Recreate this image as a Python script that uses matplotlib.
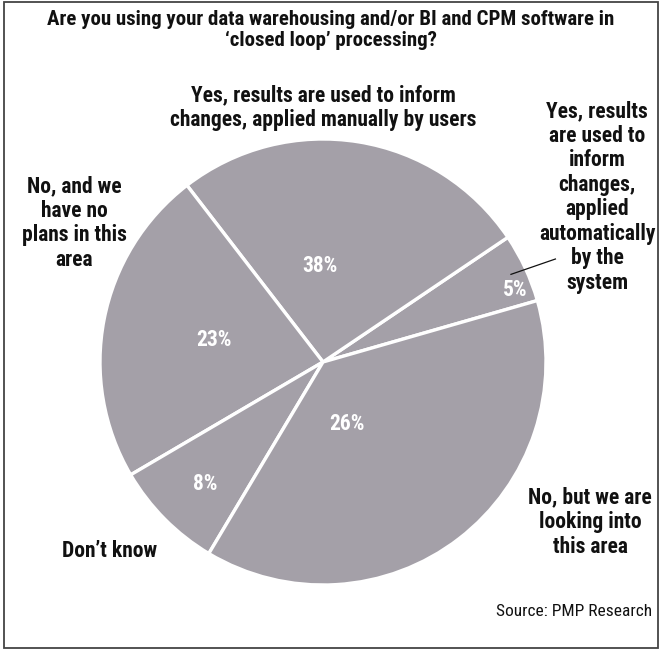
import numpy as np
import matplotlib
matplotlib.use("Agg")
import matplotlib.pyplot as plt
from matplotlib import font_manager
from matplotlib.patches import Rectangle

# ---- data ----
categories = [
    "Yes, results\nare used to\ninform\nchanges,\napplied\nautomatically\nby the\nsystem",
    "Yes, results are used to inform\nchanges, applied manually by users",
    "No, and we\nhave no\nplans in this\narea",
    "Don\u2019t know",
    "No, but we are\nlooking into\nthis area",
]
slice_sizes = [5, 26, 23, 8, 38]          # angular share drawn in the picture
pct_labels = ["5%", "38%", "23%", "8%", "26%"]  # printed labels as in the picture
title = "Are you using your data warehousing and/or BI and CPM software in\n\u2018closed loop\u2019 processing?"
source = "Source: PMP Research"

# ---- fonts ----
avail = {}
for f in font_manager.fontManager.ttflist:
    avail.setdefault(f.name, set()).add(f.weight)
prefs = ["Roboto Condensed", "PT Sans Narrow", "Liberation Sans Narrow", "IBM Plex Sans Condensed",
         "Fira Sans Condensed", "Archivo Narrow"]
font = "DejaVu Sans"
for p in prefs:
    if p in avail and any((w if isinstance(w, int) else 400) >= 700 for w in avail[p]):
        font = p
        break
plt.rcParams["font.family"] = [font, "DejaVu Sans"]
WEIGHT = "bold"

W, H = 661, 649
fig = plt.figure(figsize=(W / 100, H / 100), dpi=100)
ax = fig.add_axes([0, 0, 1, 1])

cx, cy, R = 323, 362, 223  # pixel layout of pie
gray = "#a4a0a8"
wedges, _ = ax.pie(slice_sizes, startangle=16, counterclock=True, colors=[gray] * len(slice_sizes),
                   radius=1.0, wedgeprops=dict(edgecolor="white", linewidth=2.4))
ax.set_xlim(-cx / R, (W - cx) / R)
ax.set_ylim(-(H - cy) / R, cy / R)
ax.set_aspect("auto")
ax.axis("off")

# percentage labels: (angle deg, radial distance) layout
pct_pos = [(20.6, 0.92), (92, 0.43), (168.7, 0.50), (226, 0.76), (291, 0.30)]
for lab, (ang, dist) in zip(pct_labels, pct_pos):
    a = np.deg2rad(ang)
    ax.text(dist * np.cos(a), dist * np.sin(a), lab, ha="center", va="center",
            color="white", fontsize=15.5, fontweight=WEIGHT)

# outer category labels (pixel centres)
lab_pos = [(597, 197), (323, 108), (74, 223), (110, 551), (590, 522)]
for lab, (px, py) in zip(categories, lab_pos):
    fig.text(px / W, 1 - py / H, lab, ha="center", va="center", fontsize=15.5,
             fontweight=WEIGHT, color="#111111", linespacing=1.15, multialignment="center")

# leader line for the small slice
w = wedges[0]
mid = np.deg2rad((w.theta1 + w.theta2) / 2)
ax.plot([0.93 * np.cos(mid), 1.14 * np.cos(np.deg2rad(23.9))],
        [0.93 * np.sin(mid), 1.14 * np.sin(np.deg2rad(23.9))], color="#111111", lw=0.9)

fig.text(331 / W, 1 - 30 / H, title, ha="center", va="center", fontsize=15,
         fontweight=WEIGHT, color="#111111", linespacing=1.15)
fig.text(652 / W, 1 - 612 / H, source, ha="right", va="center", fontsize=12.5, color="#111111")

fig.patches.append(Rectangle((3.5 / W, 1.5 / H), (W - 7) / W, (H - 3) / H, transform=fig.transFigure,
                             fill=False, edgecolor="#444444", lw=1.3))

fig.savefig("out.png", dpi=100)
